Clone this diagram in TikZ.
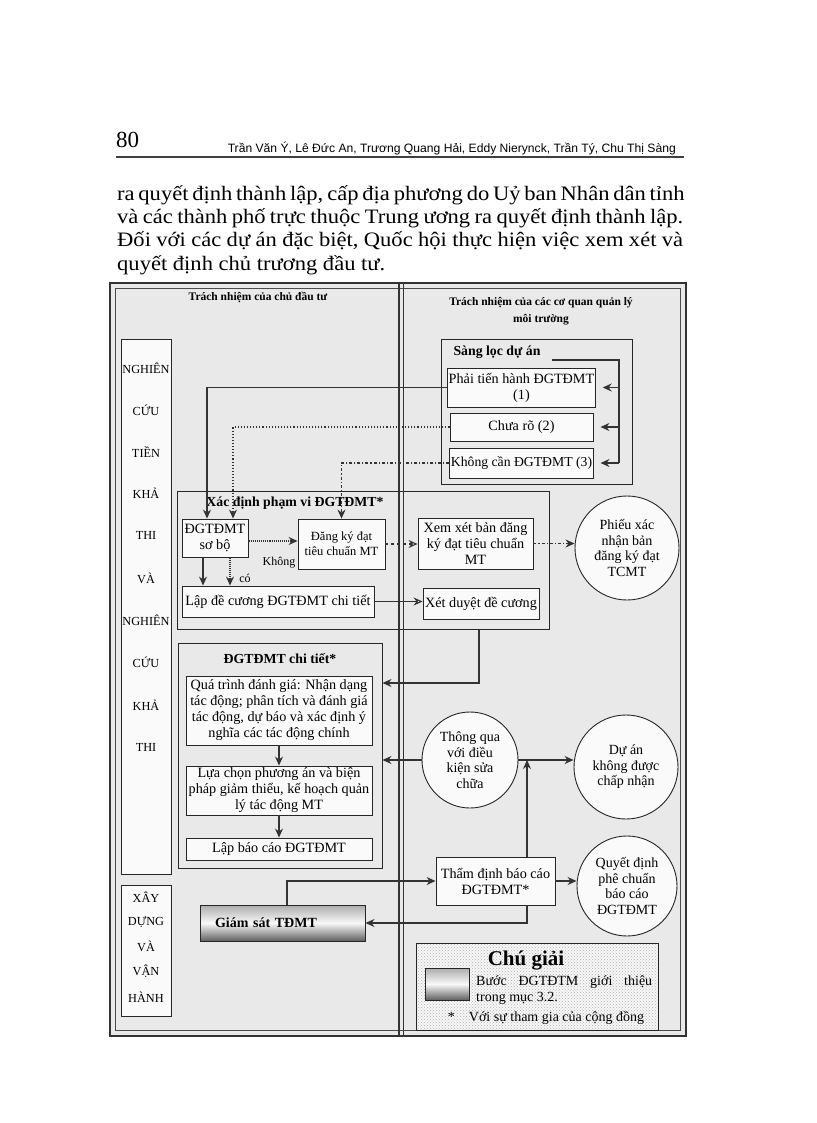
\documentclass[tikz,border=0pt]{standalone}
\usepackage{fontspec}
\setmainfont{Liberation Serif}
\newfontfamily\authorfont{Liberation Sans}
\usetikzlibrary{arrows.meta,patterns}
\begin{document}
\begin{tikzpicture}[x=1pt,y=-1pt,
  bx/.style={draw=black!85, line width=0.9pt, fill=gray!4, inner sep=1pt, align=center, font=\fontsize{14.2}{16}\selectfont},
  grp/.style={draw=black!85, line width=1pt, inner sep=0pt},
  cir/.style={circle, draw=black!85, line width=0.9pt, fill=gray!4, inner sep=0pt, align=center, font=\fontsize{14}{15.5}\selectfont},
  con/.style={draw=black!80, line width=1.1pt},
  arr/.style={con, -{Stealth[length=9pt,width=8pt,inset=3pt]}},
  oarr/.style={con, -{Stealth[open,length=9pt,width=8pt,inset=3pt]}},
  ttl/.style={font=\bfseries\fontsize{13.8}{15}\selectfont, inner sep=1pt},
  hd/.style={font=\bfseries\fontsize{11.5}{16.5}\selectfont, align=center, inner sep=1pt},
  col/.style={font=\fontsize{12.3}{13}\selectfont, inner sep=0pt},
  lbl/.style={font=\fontsize{12}{13}\selectfont, inner sep=1pt},
  shd/.style={draw=black!85, line width=1pt, top color=gray!65, bottom color=gray!75!black, middle color=gray!5},
]
\useasboundingbox (0,0) rectangle (816,1123);
\fill[white] (0,0) rectangle (816,1123);

% ---------- page header ----------
\node[anchor=base west, inner sep=0pt, font=\fontsize{23}{23}\selectfont] (pg) at (116,148) {80};
\node[anchor=base east, inner sep=0pt] (au) at (676,153) {\resizebox{448pt}{!}{\authorfont\fontsize{13}{13}\selectfont Trần Văn Ý, Lê Đức An, Trương Quang Hải, Eddy Nierynck, Trần Tý, Chu Thị Sàng}};
\draw[line width=1.6pt, black!75] (116,157) -- (684,157);

% ---------- paragraph ----------
\begin{scope}[every node/.style={anchor=base west, inner sep=0pt, font=\fontsize{20.5}{22}\selectfont}]
\node (p1) at (117,201) {\scalebox{1.1}[1]{\makebox[514.5pt][s]{ra quyết định thành lập, cấp địa phương do Uỷ ban Nhân dân tỉnh}}};
\node (p2) at (117,224) {\scalebox{1.1}[1]{\makebox[514.5pt][s]{và các thành phố trực thuộc Trung ương ra quyết định thành lập.}}};
\node (p3) at (117,247) {\scalebox{1.1}[1]{\makebox[514.5pt][s]{Đối với các dự án đặc biệt, Quốc hội thực hiện việc xem xét và}}};
\node (p4) at (117,270) {\scalebox{1.1}[1]{quyết định chủ trương đầu tư.}};
\end{scope}

% ---------- frame ----------
\fill[gray!17] (110,283) rectangle (686,1036);
\draw[line width=2.4pt, black!80] (110,283) rectangle (686,1036);
\draw[line width=0.8pt, black!70] (115.5,288.5) rectangle (680.5,1030.5);

\node[hd] (hl) at (258,297) {Trách nhiệm của chủ đầu tư};
\node[hd] (hr) at (541,311) {Trách nhiệm của các cơ quan quản lý\\môi trường};

% ---------- left column ----------
\node[grp, fill=gray!4, minimum width=50pt, minimum height=535pt] (lc) at (146,606.5) {};
\foreach \t/\yy [count=\i] in {NGHIÊN/368, CỨU/410, TIỀN/452, KHẢ/493, THI/535, VÀ/578, NGHIÊN/620, CỨU/662, KHẢ/705, THI/747}
  \node[col] (lct\i) at (146,\yy) {\t};
\node[grp, fill=gray!4, minimum width=50pt, minimum height=131pt] (lc2) at (146,950.5) {};
\foreach \t/\yy [count=\i] in {XÂY/897, DỰNG/922, VÀ/946, VẬN/971, HÀNH/997}
  \node[col] (lcb\i) at (146,\yy) {\t};

% ---------- screening ----------
\node[grp, minimum width=191pt, minimum height=145pt] (sc) at (536.5,411.5) {};
\node[ttl] (sct) at (497,352) {Sàng lọc dự án};
\node[bx, minimum width=143pt, minimum height=39pt] (b1) at (521.5,387.5) {Phải tiến hành ĐGTĐMT\\(1)};
\node[bx, minimum width=143pt, minimum height=28pt] (b2) at (521.5,427) {Chưa rõ (2)};
\node[bx, minimum width=143pt, minimum height=30pt, font=\fontsize{13.7}{16}\selectfont] (b3) at (521.5,463) {Không cần ĐGTĐMT (3)};
\coordinate (sfb) at (552,360);
\coordinate (sfr) at (619,360);
\draw[con] (sfb) -- (sfr) -- (sfr |- b3.east);
\draw[arr, shorten >=7pt] (sfr |- b1.east) -- (b1.east);
\draw[arr, shorten >=7pt] (sfr |- b2.east) -- (b2.east);
\draw[arr, shorten >=7pt] (sfr |- b3.east) -- (b3.east);

% ---------- scoping ----------
\node[grp, minimum width=372pt, minimum height=138pt] (sp) at (363,560) {};
\node[ttl] (spt) at (295,503) {Xác định phạm vi ĐGTĐMT*};
\node[bx, minimum width=66pt, minimum height=38pt] (sobo) at (215,538) {ĐGTĐMT\\sơ bộ};
\node[bx, minimum width=87pt, minimum height=50pt, font=\fontsize{12.5}{15}\selectfont] (dk) at (341.5,544) {Đăng ký đạt\\tiêu chuẩn MT};
\node[lbl] (khong) at (279,563) {Không};
\node[bx, minimum width=192pt, minimum height=31pt] (lap) at (278,601.5) {Lập đề cương ĐGTĐMT chi tiết};
\node[lbl] (co) at (245,578) {có};
\node[bx, minimum width=115pt, minimum height=51pt] (xx) at (475.5,543.5) {Xem xét bản đăng\\ký đạt tiêu chuẩn\\MT};
\node[bx, minimum width=116pt, minimum height=31pt] (xd) at (481,603.5) {Xét duyệt đề cương};
\node[cir, minimum size=104pt] (phieu) at (627,548) {Phiếu xác\\nhận bản\\đăng ký đạt\\TCMT};

\draw[arr] (b1.west) -| ([xshift=-8pt]sobo.north);
\draw[arr, dotted] (b2.west) -| ([xshift=18pt]sobo.north);
\draw[arr, dash dot] (b3.west) -| (dk.north);
\draw[arr, densely dotted] ([yshift=-3pt]sobo.east) -- ([yshift=-3pt]sobo.east -| dk.west);
\draw[arr] ([xshift=-12pt]sobo.south) -- ([xshift=-12pt]sobo.south |- lap.north);
\draw[arr, densely dotted] ([xshift=15pt]sobo.south) -- ([xshift=15pt]sobo.south |- lap.north);
\draw[oarr, dashed] (dk.east) -- (dk.east -| xx.west);
\draw[arr, dash dot] (xx.east) -- (xx.east -| phieu.west);
\draw[oarr] (lap.east) -- (lap.east -| xd.west);

% ---------- detailed EIA ----------
\node[grp, minimum width=204pt, minimum height=225pt] (dt) at (280,755.5) {};
\node[ttl] (dtt) at (280,659) {ĐGTĐMT chi tiết*};
\node[bx, minimum width=186pt, minimum height=69pt] (q1) at (279,710.5) {Quá trình đánh giá: Nhận dạng\\tác động; phân tích và đánh giá\\tác động, dự báo và xác định ý\\nghĩa các tác động chính};
\node[bx, minimum width=186pt, minimum height=49pt] (q2) at (279,790.5) {Lựa chọn phương án và biện\\pháp giảm thiểu, kế hoạch quản\\lý tác động MT};
\node[bx, minimum width=186pt, minimum height=22pt] (q3) at (279,849) {Lập báo cáo ĐGTĐMT};
\draw[arr] (q1) -- (q2);
\draw[arr] (q2) -- (q3);

\coordinate (jd) at (479,683);
\draw[arr] (jd |- sp.south) -- (jd) -- (jd -| dt.east);

% ---------- decisions ----------
\node[cir, minimum size=96pt] (tq) at (470,760) {Thông qua\\với điều\\kiện sửa\\chữa};
\node[cir, minimum size=104pt] (da) at (626,767) {Dự án\\không được\\chấp nhận};
\node[bx, minimum width=119pt, minimum height=48pt] (td) at (495.5,881) {Thẩm định báo cáo\\ĐGTĐMT*};
\node[cir, minimum size=100pt] (qd) at (627,886) {Quyết định\\phê chuẩn\\báo cáo\\ĐGTĐMT};
\node[shd, minimum width=165pt, minimum height=36pt, font=\bfseries\fontsize{14}{16}\selectfont, text width=135pt, align=left] (gs) at (282.5,923) {Giám sát TĐMT};

\draw[arr] (tq.west) -- (tq.west -| dt.east);
\draw[arr] (tq.east) -- (tq.east -| da.west);
\draw[arr] ([xshift=31.5pt]td.north) -- ([xshift=31.5pt]td.north |- tq.east);
\draw[arr] (td.east) -- (td.east -| qd.west);
\draw[arr] ([xshift=4.5pt]gs.north) |- (td.west);
\draw[arr] ([xshift=31.5pt]td.south) |- (gs.east);

% ---------- legend ----------
\node[draw=black!85, line width=0.9pt, minimum width=242pt, minimum height=87pt, preaction={fill=gray!6}, pattern=crosshatch dots, pattern color=gray!60] (lg) at (537,986.5) {};
\node[font=\bfseries\fontsize{21}{21}\selectfont, inner sep=0pt] (lgt) at (526,961) {Chú giải};
\node[shd, minimum width=44pt, minimum height=32pt, line width=0.8pt] (sw) at (447,984) {};
\node[anchor=west, align=left, inner sep=0pt, font=\fontsize{14}{15.5}\selectfont] (lgx) at (476,990) {\makebox[176pt][s]{Bước ĐGTĐTM giới thiệu}\\trong mục 3.2.};
\node[inner sep=0pt, font=\fontsize{14}{15}\selectfont] (lgs) at (546,1018) {*\quad Với sự tham gia của cộng đồng};

% ---------- divider ----------
\draw[line width=1.1pt, black!80] (399,283) -- (399,1036);
\draw[line width=1.1pt, black!80] (403.5,283) -- (403.5,1036);
\end{tikzpicture}
\end{document}
